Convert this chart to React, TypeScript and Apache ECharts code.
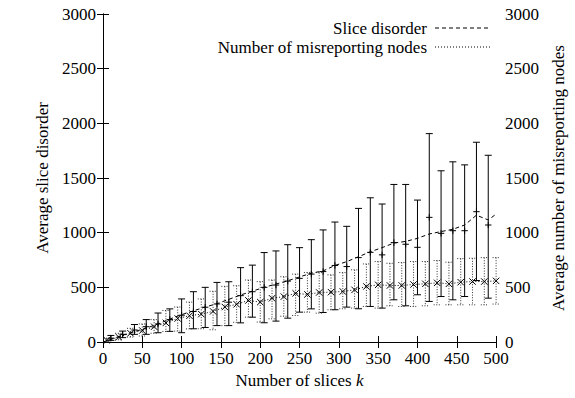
import { useEffect, useRef } from 'react';
import * as echarts from 'echarts';

const FONT = 'Times New Roman, Liberation Serif, DejaVu Serif, serif';
const FONT_SIZE = 17;

// Slice disorder: error bars (mean, low, high) per number of slices
const sliceX = [10, 25, 40, 55, 70, 85, 100, 115, 130, 145, 160, 175, 190, 205, 220, 235, 250, 265, 280, 295, 310, 325, 340, 355, 370, 385, 400, 415, 430, 445, 460, 475, 490];
const sliceMean = [35, 70, 110, 140, 165, 205, 245, 279, 318, 348, 364, 424, 460, 500, 521, 557, 582, 621, 644, 700, 690, 772, 820, 797, 909, 894, 866, 1140, 994, 1018, 1018, 1192, 1070];
const sliceLow = [15, 40, 70, 70, 85, 97, 85, 121, 133, 150, 150, 175, 227, 176, 191, 218, 273, 303, 270, 295, 319, 304, 325, 310, 386, 331, 432, 371, 416, 386, 416, 562, 401];
const sliceHigh = [60, 100, 160, 205, 265, 303, 394, 460, 500, 545, 551, 680, 703, 818, 833, 890, 863, 936, 1025, 1097, 1058, 1222, 1319, 1262, 1441, 1441, 1298, 1906, 1566, 1648, 1620, 1827, 1708];

// Slice disorder trend line
const sliceLineX = [0, 10, 25, 40, 55, 70, 85, 100, 115, 130, 145, 160, 175, 190, 205, 220, 235, 250, 265, 280, 295, 310, 325, 340, 355, 370, 385, 400, 415, 430, 445, 460, 475, 490, 500];
const sliceLineY = [0, 25, 62, 95, 127, 165, 210, 250, 285, 320, 350, 390, 430, 465, 500, 530, 560, 595, 630, 650, 700, 735, 780, 825, 863, 905, 920, 948, 988, 1010, 1031, 1070, 1160, 1116, 1170];

// Misreporting nodes: error bars (mean, low, high)
const nodesX = [5, 20, 35, 50, 65, 80, 95, 110, 125, 140, 155, 170, 185, 200, 215, 230, 245, 260, 275, 290, 305, 320, 335, 350, 365, 380, 395, 410, 425, 440, 455, 470, 485, 500];
const nodesMean = [15, 45, 80, 105, 140, 175, 215, 240, 255, 280, 320, 345, 380, 365, 400, 415, 445, 435, 453, 456, 462, 477, 508, 523, 517, 517, 526, 532, 541, 532, 547, 553, 553, 559];
const nodesLow = [0, 20, 45, 55, 80, 97, 100, 120, 121, 112, 150, 180, 227, 182, 212, 236, 242, 273, 264, 295, 304, 310, 325, 310, 331, 325, 325, 331, 340, 340, 340, 340, 340, 347];
const nodesHigh = [35, 80, 125, 165, 205, 288, 320, 365, 394, 464, 509, 515, 567, 552, 567, 597, 621, 636, 635, 614, 635, 660, 714, 736, 720, 727, 736, 736, 745, 730, 763, 766, 772, 772];

const legendNames = ['Slice disorder', 'Number of misreporting nodes'];

const xTicks = { min: 0, max: 500, interval: 50 };
const yTicks = { min: 0, max: 3000, interval: 500 };

function errorBars(dotted: boolean, marker: 'plus' | 'cross') {
  return (_params: any, api: any) => {
    const x = api.value(0);
    const bottom = api.coord([x, api.value(1)]);
    const top = api.coord([x, api.value(2)]);
    const mid = api.coord([x, api.value(3)]);
    const cap = 3.5;
    const m = 3.2;
    const barStyle: any = {
      stroke: dotted ? '#333' : '#000',
      lineWidth: 1,
      fill: null,
    };
    if (dotted) barStyle.lineDash = [1, 1.6];
    const seg = (x1: number, y1: number, x2: number, y2: number, style: any) => ({
      type: 'line',
      shape: { x1, y1, x2, y2 },
      style,
    });
    const children: any[] = [
      seg(top[0], top[1], bottom[0], bottom[1], barStyle),
      seg(top[0] - cap, top[1], top[0] + cap, top[1], barStyle),
      seg(bottom[0] - cap, bottom[1], bottom[0] + cap, bottom[1], barStyle),
    ];
    const ms = { stroke: '#000', lineWidth: 1, fill: null };
    if (marker === 'plus') {
      children.push(seg(mid[0] - m, mid[1], mid[0] + m, mid[1], ms));
      children.push(seg(mid[0], mid[1] - m, mid[0], mid[1] + m, ms));
    } else {
      children.push(seg(mid[0] - m, mid[1] - m, mid[0] + m, mid[1] + m, ms));
      children.push(seg(mid[0] - m, mid[1] + m, mid[0] + m, mid[1] - m, ms));
    }
    return { type: 'group', children };
  };
}

export default function App() {
  const ref = useRef<HTMLDivElement>(null);

  useEffect(() => {
    if (!ref.current) return;
    const chart = echarts.init(ref.current, null, { renderer: 'svg' });

    const axisLine = { show: true, lineStyle: { color: '#000', width: 1 } };
    const tick = { show: true, inside: true, length: 6, lineStyle: { color: '#000', width: 1 } };
    const label = { color: '#000', fontFamily: FONT, fontSize: FONT_SIZE };
    const plain = (v: number) => String(v);

    const sliceBars = sliceX.map((x, i) => [x, sliceLow[i], sliceHigh[i], sliceMean[i]]);
    const nodeBars = nodesX.map((x, i) => [x, nodesLow[i], nodesHigh[i], nodesMean[i]]);
    const sliceLine = sliceLineX.map((x, i) => [x, sliceLineY[i]]);
    const nodeLine = [[0, 0], ...nodesX.map((x, i) => [x, nodesMean[i]])];

    // key box in the upper right: right-aligned labels followed by line samples
    const keyRows = [
      { y: 28, dash: [4, 3] },
      { y: 47, dash: [1, 2] },
    ];
    const keyGraphics: any[] = [];
    keyRows.forEach((row, i) => {
      keyGraphics.push({
        type: 'text',
        x: 427,
        y: row.y,
        style: {
          text: legendNames[i],
          fill: '#000',
          fontFamily: FONT,
          fontSize: FONT_SIZE,
          textAlign: 'right',
          textVerticalAlign: 'middle',
        },
      });
      keyGraphics.push({
        type: 'line',
        shape: { x1: 435, y1: row.y, x2: 490, y2: row.y },
        style: { stroke: '#000', lineWidth: 1, lineDash: row.dash },
      });
    });

    chart.setOption({
      animation: false,
      backgroundColor: '#fff',
      textStyle: { fontFamily: FONT },
      grid: { left: 103, right: 63, top: 14, bottom: 56, containLabel: false },
      graphic: keyGraphics,
      xAxis: [
        {
          type: 'value',
          position: 'bottom',
          ...xTicks,
          axisLine,
          axisTick: tick,
          axisLabel: { ...label, margin: 8, formatter: plain },
          splitLine: { show: false },
          name: 'Number of slices {i|k}',
          nameLocation: 'middle',
          nameGap: 29,
          nameTextStyle: {
            ...label,
            rich: { i: { fontStyle: 'italic', fontFamily: FONT, fontSize: FONT_SIZE, color: '#000' } },
          },
        },
        {
          type: 'value',
          position: 'top',
          ...xTicks,
          axisLine,
          axisTick: tick,
          axisLabel: { show: false },
          splitLine: { show: false },
        },
      ],
      yAxis: [
        {
          type: 'value',
          position: 'left',
          ...yTicks,
          axisLine,
          axisTick: tick,
          axisLabel: { ...label, margin: 7, formatter: plain },
          splitLine: { show: false },
          name: 'Average slice disorder',
          nameLocation: 'middle',
          nameRotate: 90,
          nameGap: 52,
          nameTextStyle: label,
        },
        {
          type: 'value',
          position: 'right',
          ...yTicks,
          axisLine,
          axisTick: tick,
          axisLabel: { ...label, margin: 9, formatter: plain },
          splitLine: { show: false },
          name: 'Average number of misreporting nodes',
          nameLocation: 'middle',
          nameRotate: 90,
          nameGap: 38,
          nameTextStyle: label,
        },
      ],
      series: [
        {
          name: legendNames[0],
          type: 'line',
          data: sliceLine,
          symbol: 'none',
          lineStyle: { color: '#000', width: 1, type: [4, 3] },
          z: 3,
        },
        {
          name: legendNames[1],
          type: 'line',
          yAxisIndex: 1,
          data: nodeLine,
          symbol: 'none',
          lineStyle: { color: '#000', width: 1, type: [1, 2] },
          z: 3,
        },
        {
          name: 'slice-errors',
          type: 'custom',
          renderItem: errorBars(false, 'plus'),
          data: sliceBars,
          encode: { x: 0, y: [1, 2, 3] },
          z: 2,
        },
        {
          name: 'nodes-errors',
          type: 'custom',
          yAxisIndex: 1,
          renderItem: errorBars(true, 'cross'),
          data: nodeBars,
          encode: { x: 0, y: [1, 2, 3] },
          z: 2,
        },
      ],
    });

    return () => chart.dispose();
  }, []);

  return (
    <div
      ref={ref}
      style={{ position: 'absolute', left: 0, top: 0, width: 575, height: 398 }}
    />
  );
}
